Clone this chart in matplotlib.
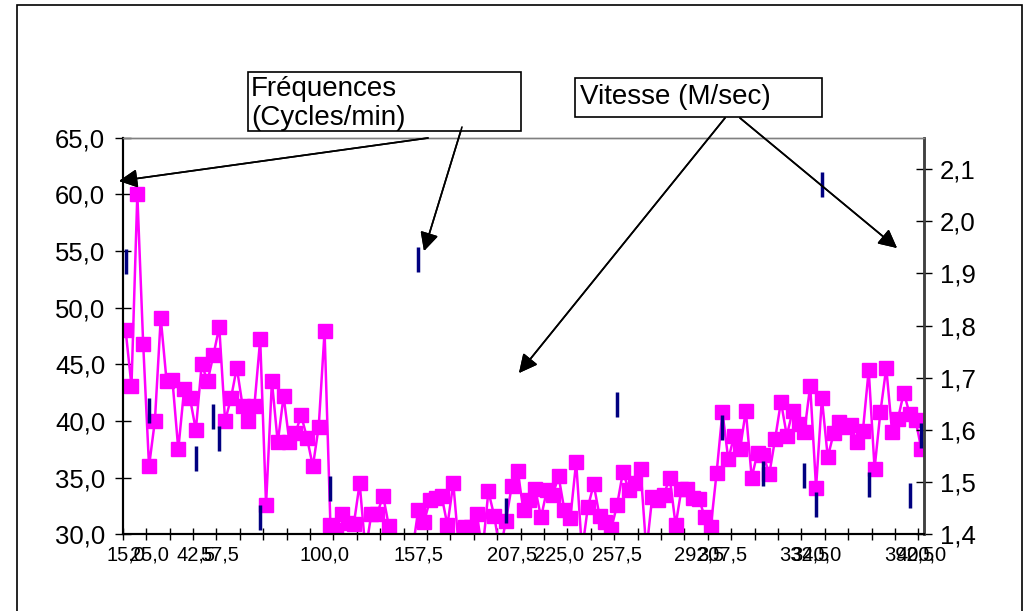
import numpy as np
import matplotlib.pyplot as plt
from matplotlib.patches import Rectangle

plt.rcParams['font.family'] = ['Liberation Sans', 'DejaVu Sans']

# frequency (cycles/min), one value per category
freq = [48.0, 43.1, 60.0, 46.8, 36.0, 40.0, 49.1, 43.5, 43.6, 37.5,
        42.8, 42.0, 39.2, 45.0, 43.5, 45.8, 48.3, 40.0, 42.0, 44.7,
        41.3, 40.0, 41.3, 47.2, 32.6, 43.5, 38.1, 42.2, 38.1, 38.9,
        40.5, 38.5, 36.0, 39.5, 47.9, 30.8, 30.4, 31.8, 31.0, 30.9,
        34.5, 28.5, 31.8, 31.8, 33.4, 30.7, 28.0, 28.0, 28.0, 28.5,
        32.1, 31.1, 33.0, 33.2, 33.4, 30.8, 34.5, 28.5, 30.6, 30.6,
        31.8, 28.5, 33.8, 31.6, 28.5, 31.2, 34.3, 35.6, 32.1, 33.0,
        34.0, 31.5, 33.9, 33.5, 35.1, 32.1, 31.4, 36.4, 28.5, 32.4,
        34.4, 31.6, 31.1, 30.5, 32.6, 35.5, 33.9, 34.5, 35.8, 28.5,
        33.3, 33.0, 33.5, 35.0, 30.8, 34.0, 34.0, 33.2, 33.1, 31.5,
        30.6, 35.4, 40.8, 36.6, 38.7, 37.5, 40.9, 35.0, 37.2, 37.0,
        35.3, 38.4, 41.7, 38.7, 40.9, 39.7, 39.0, 43.1, 34.1, 42.0,
        36.8, 38.9, 39.9, 39.5, 39.6, 38.1, 39.1, 44.5, 35.8, 40.8,
        44.7, 39.0, 40.2, 42.5, 40.6, 40.1, 37.5]

# speed (m/sec), only at a few categories
speed_idx = [0, 4, 12, 15, 16, 23, 35, 50, 65, 84, 102, 109, 116, 118, 119, 127, 134, 136]
speed = [1.923, 1.638, 1.546, 1.627, 1.585, 1.434, 1.489, 1.928, 1.446, 1.649,
         1.606, 1.518, 1.513, 1.458, 2.072, 1.496, 1.475, 1.591]

label_idx = [0, 4, 12, 16, 34, 50, 66, 74, 84, 98, 102, 116, 118, 134, 136]
label_txt = ["15,0", "25,0", "42,5", "57,5", "100,0", "157,5", "207,5", "225,0",
             "257,5", "292,5", "307,5", "332,5", "340,0", "392,5", "400,0"]

left_ticks = [30, 35, 40, 45, 50, 55, 60, 65]
right_ticks = [1.4, 1.5, 1.6, 1.7, 1.8, 1.9, 2.0, 2.1]

W, H = 1032, 611
fig = plt.figure(figsize=(W / 100, H / 100), dpi=100)


def fx(x):
    return x / W


def fy(y):
    return 1 - y / H


ax = fig.add_axes([fx(122.7), fy(534.3), 801.6 / W, 396.7 / H])
n = len(freq)
ax.plot(np.arange(n), freq, color='#FF00FF', lw=1.8, marker='s', ms=10.5,
        mfc='#FF00FF', mec='#FF00FF')
ax.set_xlim(-0.5, n - 0.5)
ax.set_ylim(30, 65)
ax.set_yticks(left_ticks)
ax.set_yticklabels([("%.1f" % v).replace('.', ',') for v in left_ticks])
ax.set_xticks(label_idx)
ax.set_xticklabels(label_txt)
ax.set_xticks(np.arange(-0.5, n, 4), minor=True)
ax.tick_params(axis='x', which='major', length=0, pad=8, labelsize=14.5)
ax.tick_params(axis='x', which='minor', direction='inout', length=9, width=1)
ax.tick_params(axis='y', direction='inout', length=11, width=1, pad=7, labelsize=18.5)

ax2 = ax.twinx()
ax2.plot(speed_idx, speed, ls='none', marker='|', ms=18, mew=2.5, color='#000080')
ax2.set_ylim(1.4, 2.16)
ax2.set_yticks(right_ticks)
ax2.set_yticklabels([("%.1f" % v).replace('.', ',') for v in right_ticks])
ax2.tick_params(axis='y', direction='inout', length=11, width=1, pad=5.5, labelsize=18.5)

for a in (ax, ax2):
    a.spines['left'].set_color('black')
    a.spines['left'].set_linewidth(1.5)
    a.spines['bottom'].set_color('black')
    a.spines['bottom'].set_linewidth(1.5)
    a.spines['right'].set_color('#404040')
    a.spines['right'].set_linewidth(1.8)
    a.spines['top'].set_color('#808080')
    a.spines['top'].set_linewidth(1)

# outer frame (its bottom edge falls below the picture)
fig.add_artist(Rectangle((fx(17), fy(620)), (1022 - 17) / W, (620 - 5) / H,
                         transform=fig.transFigure, fill=False, ec='black', lw=1.2))

# label boxes
fig.add_artist(Rectangle((fx(248), fy(131)), (521 - 248) / W, (131 - 72) / H,
                         transform=fig.transFigure, fc='white', ec='black', lw=1.2))
fig.text(fx(251), fy(89), "Fréquences", fontsize=20, va='center', ha='left')
fig.text(fx(251), fy(118), "(Cycles/min)", fontsize=20, va='center', ha='left')
fig.add_artist(Rectangle((fx(575), fy(117)), (822 - 575) / W, (117 - 78) / H,
                         transform=fig.transFigure, fc='white', ec='black', lw=1.2))
fig.text(fx(580), fy(97), "Vitesse (M/sec)", fontsize=20, va='center', ha='left')

arrows = [((428, 138), (119, 181)),
          ((462, 127), (424, 251)),
          ((725, 118), (519, 373)),
          ((740, 118), (897, 248))]
for (x0, y0), (x1, y1) in arrows:
    fig.add_artist(plt.annotate('', xy=(fx(x1), fy(y1)), xytext=(fx(x0), fy(y0)),
                                xycoords='figure fraction', textcoords='figure fraction',
                                arrowprops=dict(arrowstyle='-|>', color='black', lw=1.2,
                                                mutation_scale=28, shrinkA=0, shrinkB=0)))

fig.savefig('out.png', dpi=100)
